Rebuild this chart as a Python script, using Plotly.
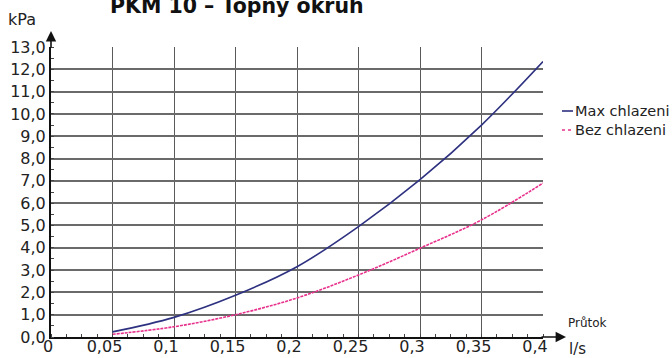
import plotly.graph_objects as go

# Pressure loss vs. flow rate, PKM 10 heating circuit
flow = [0.05, 0.1, 0.15, 0.2, 0.25, 0.3, 0.35, 0.4]            # l/s
max_chlazeni = [0.23, 0.88, 1.87, 3.15, 4.95, 7.05, 9.5, 12.35]  # kPa
bez_chlazeni = [0.12, 0.46, 1.0, 1.75, 2.78, 3.98, 5.25, 6.9]    # kPa

x_ticks = [0, 0.05, 0.1, 0.15, 0.2, 0.25, 0.3, 0.35, 0.4]
x_labels = ["\u00a0\u00a00", "0,05", "0,1", "0,15", "0,2", "0,25", "0,3", "0,35", "0,4"]
y_ticks = list(range(0, 14))
y_labels = [f"{v},0" for v in y_ticks]

series_names = ["Max chlazeni", "Bez chlazeni"]
blue = "#2e3180"
pink = "#e8318c"

FONT = "DejaVu Sans, Liberation Sans, sans-serif"

fig = go.Figure()
fig.add_trace(go.Scatter(x=flow, y=max_chlazeni, mode="lines", name=series_names[0],
                         line=dict(color=blue, width=1.6, shape="spline")))
fig.add_trace(go.Scatter(x=flow, y=bez_chlazeni, mode="lines", name=series_names[1],
                         line=dict(color=pink, width=1.6, shape="spline", dash="3px,1px")))

W, H = 672, 358
L, R, T, B = 51, 129, 47, 21
pw, ph = W - L - R, H - T - B


def px_x(p):
    return (p - L) / pw


def px_y(p):
    return 1 - (p - T) / ph


fig.update_layout(
    width=W, height=H,
    margin=dict(l=L, r=R, t=T, b=B, autoexpand=False),
    paper_bgcolor="white", plot_bgcolor="white",
    showlegend=False,
    font=dict(family=FONT, color="#222"),
    xaxis=dict(range=[0, 0.4], tickvals=x_ticks, ticktext=x_labels,
               automargin=False,
               showgrid=True, gridcolor="#5a5a5a", gridwidth=1,
               showline=True, linecolor="#111", linewidth=2,
               zeroline=False, ticks="", ticklabelshift=-8, ticklabelstandoff=-6,
               tickfont=dict(size=16, color="#222"),
               minor=dict(dtick=0.0125, ticks="inside", ticklen=3,
                          tickcolor="#444", showgrid=False)),
    yaxis=dict(range=[0, 13], tickvals=y_ticks, ticktext=y_labels,
               automargin=False,
               showgrid=True, gridcolor="#6a6a6a", gridwidth=1.6,
               showline=True, linecolor="#111", linewidth=2,
               zeroline=False, ticks="", tickfont=dict(size=16, color="#222"),
               minor=dict(dtick=0.5, ticks="inside", ticklen=3,
                          tickcolor="#444", showgrid=False)),
)

annotations = [
    # title running off the top edge of the page
    dict(text="<b>PKM 10 – Topný okruh</b>", xref="paper", yref="paper",
         x=px_x(108), y=px_y(20), xanchor="left", yanchor="bottom",
         showarrow=False, font=dict(size=20.5, color="#111", family=FONT)),
    dict(text="kPa", xref="paper", yref="paper", x=px_x(6), y=px_y(20),
         xanchor="left", yanchor="middle", showarrow=False,
         font=dict(size=16, color="#222")),
    dict(text="Průtok", xref="paper", yref="paper", x=px_x(566), y=px_y(323),
         xanchor="left", yanchor="middle", showarrow=False,
         font=dict(size=12, color="#222")),
    dict(text="l/s", xref="paper", yref="paper", x=px_x(567), y=px_y(349),
         xanchor="left", yanchor="middle", showarrow=False,
         font=dict(size=15, color="#222")),
    # axis arrows
    dict(x=px_x(51), y=px_y(31), xref="paper", yref="paper", ax=0, ay=18,
         showarrow=True, arrowhead=2, arrowsize=1.3, arrowwidth=1.6,
         arrowcolor="#111", text=""),
    dict(x=px_x(566), y=px_y(337), xref="paper", yref="paper", ax=-26, ay=0,
         showarrow=True, arrowhead=2, arrowsize=1.3, arrowwidth=1.6,
         arrowcolor="#111", text=""),
]

# legend drawn beside the plot
legend_rows = [(series_names[0], blue, "solid", 111), (series_names[1], pink, "dot", 130)]
shapes = []
for name, col, dash, yy in legend_rows:
    shapes.append(dict(type="line", xref="paper", yref="paper",
                       x0=px_x(562), x1=px_x(573), y0=px_y(yy), y1=px_y(yy),
                       line=dict(color=col, width=1.6, dash=dash)))
    annotations.append(dict(text=name, xref="paper", yref="paper",
                            x=px_x(573), y=px_y(yy), xanchor="left", yanchor="middle",
                            showarrow=False, font=dict(size=14.5, color="#222")))

fig.update_layout(annotations=annotations, shapes=shapes)
fig.write_html("out.html")
